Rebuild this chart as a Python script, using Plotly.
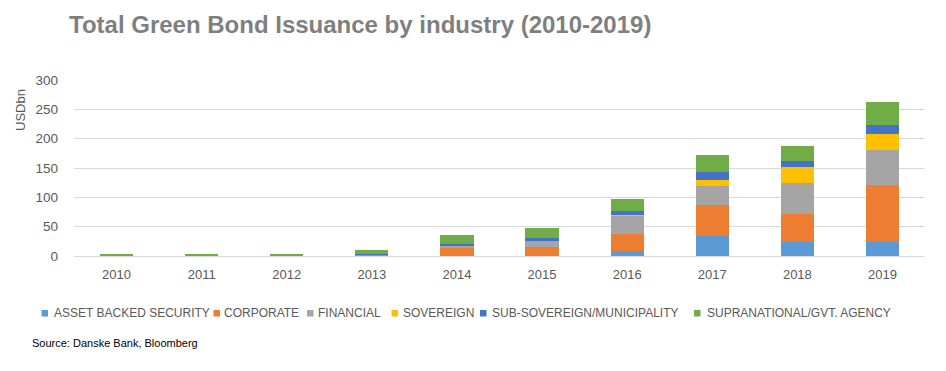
import plotly.graph_objects as go

years = ["2010", "2011", "2012", "2013", "2014", "2015", "2016", "2017", "2018", "2019"]
asset_backed = [0, 0, 0, 0, 0.3, 0.5, 9, 34, 24.5, 24.5]
corporate = [0, 0, 0, 2.5, 14.5, 15.5, 28.5, 53.5, 47.5, 96.5]
financial = [0, 0, 0, 0.5, 1.5, 9.5, 32, 31.5, 52, 59]
sovereign = [0, 0, 0, 0, 0, 0, 1, 11, 28, 28]
sub_sovereign = [0, 0, 0, 0.5, 3.7, 4.5, 6, 14, 10, 16]
supranational = [4, 2, 2, 7.3, 15.3, 17.5, 21.5, 29, 25.5, 38.5]

series = [
    ("ASSET BACKED SECURITY", asset_backed, "#5B9BD5"),
    ("CORPORATE", corporate, "#ED7D31"),
    ("FINANCIAL", financial, "#A5A5A5"),
    ("SOVEREIGN", sovereign, "#FFC000"),
    ("SUB-SOVEREIGN/MUNICIPALITY", sub_sovereign, "#4472C4"),
    ("SUPRANATIONAL/GVT. AGENCY", supranational, "#70AD47"),
]

W, H = 946, 371
ML, MR, MT, MB = 74, 21, 80, 115
PW, PH = W - ML - MR, H - MT - MB


def px_x(px):
    return (px - ML) / PW


def px_y(py):
    return (H - MB - py) / PH


font_family = "Liberation Sans, Arial, sans-serif"
text_gray = "#595959"

fig = go.Figure()
for name, vals, color in series:
    fig.add_trace(go.Bar(x=years, y=vals, name=name,
                         marker=dict(color=color, line=dict(width=0)), width=0.39))

fig.update_layout(
    barmode="stack",
    width=W, height=H,
    paper_bgcolor="white", plot_bgcolor="white",
    margin=dict(l=ML, r=MR, t=MT, b=MB, autoexpand=False),
    font=dict(family=font_family, size=13, color=text_gray),
    showlegend=False,
    xaxis=dict(showgrid=False, showline=False, ticks="", ticklabelstandoff=9,
               tickfont=dict(size=13, color=text_gray)),
    yaxis=dict(range=[0, 300], dtick=50, showgrid=True, gridcolor="#D9D9D9", gridwidth=1,
               zeroline=True, zerolinecolor="#D9D9D9", zerolinewidth=1, showline=False,
               ticks="", ticklabelstandoff=15, tickfont=dict(size=13.5, color=text_gray)),
)

# Title
fig.add_annotation(text="<b>Total Green Bond Issuance by industry (2010-2019)</b>",
                   xref="paper", yref="paper", x=px_x(67), y=px_y(24),
                   xanchor="left", yanchor="middle", showarrow=False,
                   font=dict(family=font_family, size=24, color="#7F7F7F"))

# Y axis title
fig.add_annotation(text="USDbn", xref="paper", yref="paper", x=px_x(20), y=px_y(87),
                   xanchor="center", yanchor="top", textangle=-90, showarrow=False,
                   font=dict(size=13, color=text_gray))

# Legend (manual, single row)
legend_square_x = [41.5, 213.5, 307, 391.5, 480, 694]
legend_text_x = [52, 222, 315.5, 400.5, 490, 704.5]
legend_y = 313
for (name, _, color), sx, tx in zip(series, legend_square_x, legend_text_x):
    fig.add_shape(type="rect", xref="paper", yref="paper",
                  x0=px_x(sx), x1=px_x(sx + 6.5), y0=px_y(legend_y + 3.5), y1=px_y(legend_y - 3),
                  fillcolor=color, line=dict(width=0))
    fig.add_annotation(text=name, xref="paper", yref="paper", x=px_x(tx), y=px_y(legend_y),
                       xanchor="left", yanchor="middle", showarrow=False,
                       font=dict(size=12, color=text_gray))

# Source
fig.add_annotation(text="Source: Danske Bank, Bloomberg", xref="paper", yref="paper",
                   x=px_x(30), y=px_y(343), xanchor="left", yanchor="middle", showarrow=False,
                   font=dict(size=11, color="#000000"))

fig.write_html("out.html", config={"displayModeBar": False},
               post_script="document.body.style.margin='0px';")
